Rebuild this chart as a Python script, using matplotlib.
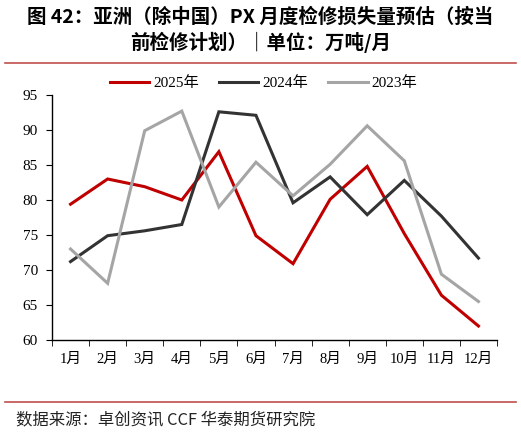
import matplotlib
matplotlib.use("Agg")
import matplotlib.pyplot as plt
import numpy as np
from matplotlib.lines import Line2D

months = ["1月", "2月", "3月", "4月", "5月", "6月", "7月", "8月", "9月", "10月", "11月", "12月"]
y2025 = [79.4, 83.0, 81.9, 80.0, 86.9, 74.9, 70.9, 80.1, 84.8, 75.2, 66.4, 62.0]
y2024 = [71.2, 74.9, 75.6, 76.5, 92.6, 92.1, 79.6, 83.3, 77.9, 82.8, 77.7, 71.7]
y2023 = [73.0, 68.1, 89.9, 92.7, 79.0, 85.4, 80.6, 85.1, 90.6, 85.6, 69.4, 65.5]
series_names = ["2025年", "2024年", "2023年"]
colors = ["#C00000", "#333333", "#A5A5A5"]

W, H = 521, 433
fig = plt.figure(figsize=(W / 100, H / 100), dpi=100)
ax = fig.add_axes([52 / W, 1 - 340 / H, (497 - 52) / W, (340 - 95) / H])

tickfont = ["Liberation Serif", "Noto Sans CJK SC"]
x = np.arange(len(months))
for vals, c, n in zip([y2025, y2024, y2023], colors, series_names):
    ax.plot(x, vals, color=c, lw=2.2, label=n, solid_joinstyle="miter")

ax.set_xlim(-0.5, len(months) - 0.5)
ax.set_ylim(60, 95)
ax.set_yticks(np.arange(60, 96, 5))
ax.set_xticks(x)
ax.set_xticklabels(months, family=tickfont, fontsize=10.5)
ax.set_xticks(np.arange(-0.5, len(months), 1), minor=True)
ax.tick_params(axis="x", which="major", length=0, pad=9)
ax.tick_params(axis="x", which="minor", length=4, direction="out", color="black")
ax.tick_params(axis="y", length=4, direction="out", pad=6)
for lab in ax.get_yticklabels():
    lab.set_family(tickfont)
    lab.set_fontsize(11)
for s in ["top", "right"]:
    ax.spines[s].set_visible(False)
ax.spines["left"].set_linewidth(1.0)
ax.spines["bottom"].set_linewidth(1.0)

leg = ax.legend(loc="center", bbox_to_anchor=(0.475, 1.049), ncol=3, frameon=False,
                prop={"family": tickfont, "size": 11}, handlelength=2.6,
                columnspacing=1.3, handletextpad=0.25, borderaxespad=0.0, borderpad=0.0)

fig.text(0.5, 1 - 17 / H, "图 42：亚洲（除中国）PX 月度检修损失量预估（按当",
         ha="center", va="center", fontsize=14, fontweight="bold", family=["Noto Sans CJK SC"])
fig.text(0.5, 1 - 42 / H, "前检修计划）｜单位：万吨/月",
         ha="center", va="center", fontsize=14, fontweight="bold", family=["Noto Sans CJK SC"])

fig.add_artist(Line2D([5 / W, 516 / W], [1 - 63 / H, 1 - 63 / H], color="#C0504D", lw=1.2))
fig.add_artist(Line2D([5 / W, 516 / W], [1 - 402 / H, 1 - 402 / H], color="#C0504D", lw=1.2))

fig.text(16 / W, 1 - 420 / H, "数据来源：卓创资讯 CCF 华泰期货研究院", ha="left", va="center",
         fontsize=11.8, family=["Noto Sans CJK SC"], color="#222222")

fig.savefig("out.png", dpi=100)
